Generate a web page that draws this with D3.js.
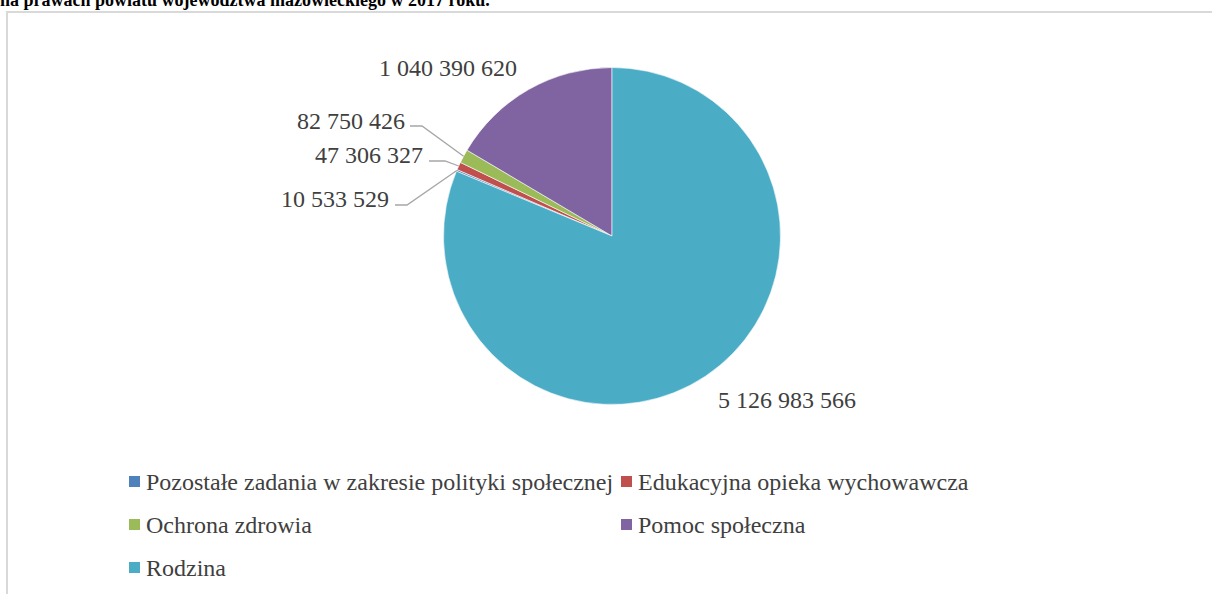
<!DOCTYPE html>
<html>
<head>
<meta charset="utf-8">
<script src="https://cdn.jsdelivr.net/npm/d3@7"></script>
<style>
  body{margin:0;background:#fff;}
  svg{display:block;}
</style>
</head>
<body>
<svg width="1212" height="594" font-family="'Liberation Serif', 'DejaVu Serif', serif"></svg>
<script>
// data (legend order)
var categories = ['Pozostałe zadania w zakresie polityki społecznej','Edukacyjna opieka wychowawcza','Ochrona zdrowia','Pomoc społeczna','Rodzina'];
var values = [10533529, 47306327, 82750426, 1040390620, 5126983566];
var colors = ['#4F81BD','#C0504D','#9BBB59','#8064A2','#4BACC6'];
var title = 'na prawach powiatu województwa mazowieckiego w 2017 roku.';

var svg = d3.select('svg');
var cx = 612, cy = 236, r = 168.5;

// title, cut off by the top of the page like in the source
svg.append('text').attr('x',0).attr('y',5.5).attr('font-size',18).attr('font-weight','bold').attr('fill','#000').text(title);

// chart frame
svg.append('rect').attr('x',7).attr('y',12).attr('width',1300).attr('height',700)
  .attr('fill','none').attr('stroke','#D9D9D9').attr('stroke-width',2);

var data = categories.map(function(c,i){return {name:c,value:values[i],color:colors[i]}});

// last slice (Rodzina) starts at 12 o'clock, so rotate the rest before it
var total = d3.sum(values);
var start = 2*Math.PI*values[values.length-1]/total;
var pie = d3.pie().value(function(d){return d.value}).sort(null).startAngle(start).endAngle(start+2*Math.PI);
var arcs = pie(data);

var arc = d3.arc().innerRadius(0).outerRadius(r);
var edge = d3.arc().innerRadius(r).outerRadius(r);

var g = svg.append('g').attr('transform','translate(' + cx + ',' + cy + ')');
g.selectAll('path').data(arcs).enter().append('path')
  .attr('d',arc).attr('fill',function(d){return d.data.color})
  .attr('stroke','#fff').attr('stroke-width',0.6);

var fmt = function(v){return d3.format(',')(v).replace(/,/g,' ')};

// label placement: x,y of text (anchor) and leader start (lx1 -> lx2 at ly)
var labelPos = [
  {x:389,y:207,anchor:'end',lead:[395,407,205]},
  {x:423,y:163,anchor:'end',lead:[429,445,161]},
  {x:405,y:129,anchor:'end',lead:[410,422,126]},
  {x:448,y:76,anchor:'middle',lead:null},
  {x:787,y:408,anchor:'middle',lead:null}
];

arcs.forEach(function(d,i){
  var p = labelPos[i];
  svg.append('text').attr('x',p.x).attr('y',p.y).attr('text-anchor',p.anchor)
    .attr('font-size',24).attr('fill','#404040').text(fmt(d.data.value));
  if(p.lead){
    var c = edge.centroid(d);
    var pts = [[p.lead[0],p.lead[2]],[p.lead[1],p.lead[2]],[c[0]+cx,c[1]+cy]];
    svg.append('path').attr('d',d3.line()(pts)).attr('fill','none')
      .attr('stroke','#A6A6A6').attr('stroke-width',1.3);
  }
});

// legend
var legendPos = [[129,482],[621,482],[129,525],[621,525],[129,568]];
var leg = svg.selectAll('.leg').data(data).enter().append('g').attr('class','leg')
  .attr('transform',function(d,i){return 'translate(' + legendPos[i][0] + ',' + legendPos[i][1] + ')'});
leg.append('rect').attr('x',0).attr('y',-6).attr('width',11).attr('height',11).attr('fill',function(d){return d.color});
leg.append('text').attr('x',17).attr('y',8).attr('font-size',24).attr('fill','#404040').text(function(d){return d.name});
</script>
</body>
</html>
